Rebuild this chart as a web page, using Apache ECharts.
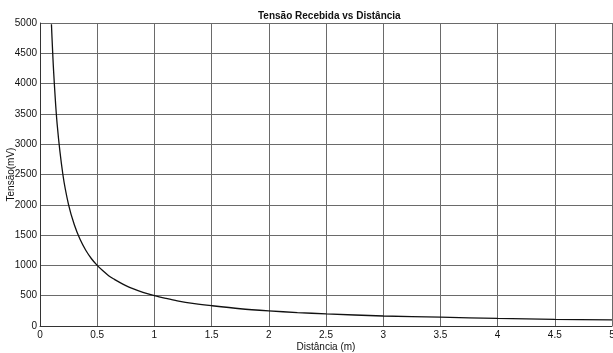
<!DOCTYPE html>
<html>
<head>
<meta charset="utf-8">
<script src="https://cdn.jsdelivr.net/npm/echarts@6/dist/echarts.min.js"></script>
<style>
  html, body { margin: 0; padding: 0; background: #fff; }
  #chart { width: 613px; height: 353px; }
</style>
</head>
<body>
<div id="chart"></div>
<script>
// distância (m) e tensão (mV)
const distancia = [0.1, 0.12, 0.15, 0.2, 0.25, 0.3, 0.35, 0.4, 0.45, 0.5, 0.55, 0.6, 0.65, 0.7, 0.75, 0.8, 0.9, 1.0, 1.1, 1.2, 1.35, 1.5, 1.75, 2.0, 2.25, 2.5, 3.0, 3.5, 4.0, 4.5, 5.0]
const tensao = [4980, 4170, 3330, 2500, 2000, 1670, 1430, 1250, 1110, 1000, 910, 830, 770, 715, 667, 625, 555, 500, 455, 415, 370, 335, 285, 250, 222, 200, 165, 145, 125, 110, 100]

const chart = echarts.init(document.getElementById('chart'))

const axisFont = { fontFamily: 'Liberation Sans, Arial, sans-serif', fontSize: 10, color: '#111' }

chart.setOption({
  animation: false,
  backgroundColor: '#fff',
  title: {
    text: 'Tensão Recebida vs Distância',
    left: 253,
    top: 6,
    textStyle: { fontFamily: 'Liberation Sans, Arial, sans-serif', fontSize: 10, fontWeight: 'bold', color: '#111' }
  },
  grid: { left: 40, right: 1, top: 23, bottom: 27, outerBoundsMode: 'none' },
  xAxis: {
    type: 'value',
    min: 0,
    max: 5,
    interval: 0.5,
    name: 'Distância (m)',
    nameLocation: 'middle',
    nameGap: 16,
    nameMoveOverlap: false,
    nameTextStyle: axisFont,
    axisLine: { lineStyle: { color: '#333' } },
    axisTick: { show: false },
    axisLabel: { ...axisFont, margin: 4 },
    splitLine: { show: true, lineStyle: { color: '#6a6a6a', width: 1 } }
  },
  yAxis: {
    type: 'value',
    min: 0,
    max: 5000,
    interval: 500,
    name: 'Tensão(mV)',
    nameLocation: 'middle',
    nameGap: 24,
    nameMoveOverlap: false,
    nameTextStyle: axisFont,
    axisLine: { show: true, lineStyle: { color: '#333' } },
    axisTick: { show: false },
    axisLabel: { ...axisFont, margin: 3, formatter: v => String(v) },
    splitLine: { show: true, lineStyle: { color: '#6a6a6a', width: 1 } }
  },
  series: [{
    type: 'line',
    data: distancia.map((d, i) => [d, tensao[i]]),
    smooth: 0.3,
    showSymbol: false,
    lineStyle: { color: '#111', width: 1.3 }
  }]
})
</script>
</body>
</html>
